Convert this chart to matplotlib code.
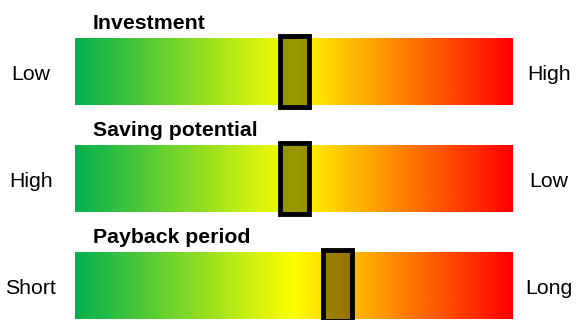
import numpy as np
import matplotlib.pyplot as plt
from matplotlib.colors import LinearSegmentedColormap
from matplotlib.patches import Rectangle

plt.rcParams['font.family'] = ['Liberation Sans', 'DejaVu Sans']

# data
titles = ["Investment", "Saving potential", "Payback period"]
left_labels = ["Low", "High", "Short"]
right_labels = ["High", "Low", "Long"]
marker_pos = [50, 50, 60]   # position on 0..100 scale

# layout (pixels)
W, H = 585, 320
bar_x0, bar_x1 = 75, 513
bar_top0, row_step, bar_h = 38, 107, 67
mark_w, mark_h = 29, 71
fs = 15.3

cmap = LinearSegmentedColormap.from_list(
    "rag", [(0, "#00B050"), (0.5, "#FFFF00"), (1, "#FF0000")])
grad = np.linspace(0, 1, 512).reshape(1, -1)

fig = plt.figure(figsize=(W / 100, H / 100), dpi=100)
ax = fig.add_axes([0, 0, 1, 1])
ax.set_xlim(0, W)
ax.set_ylim(H, 0)
ax.axis("off")

for i in range(len(titles)):
    top = bar_top0 + i * row_step
    ax.imshow(grad, cmap=cmap, aspect="auto",
              extent=[bar_x0, bar_x1, top + bar_h, top], interpolation="bilinear")
    cx = bar_x0 + (bar_x1 - bar_x0) * marker_pos[i] / 100
    cy = top + bar_h / 2
    ax.add_patch(Rectangle((cx - mark_w / 2, cy - mark_h / 2), mark_w, mark_h,
                           facecolor=(0, 0, 0, 0.4), edgecolor="black", lw=3.5))
    ax.text(93, top - 9, titles[i], fontsize=fs, fontweight="bold", va="baseline", ha="left")
    ax.text(31, cy + 8.5, left_labels[i], fontsize=fs, va="baseline", ha="center")
    ax.text(549, cy + 8.5, right_labels[i], fontsize=fs, va="baseline", ha="center")

fig.savefig("out.png", dpi=100)
